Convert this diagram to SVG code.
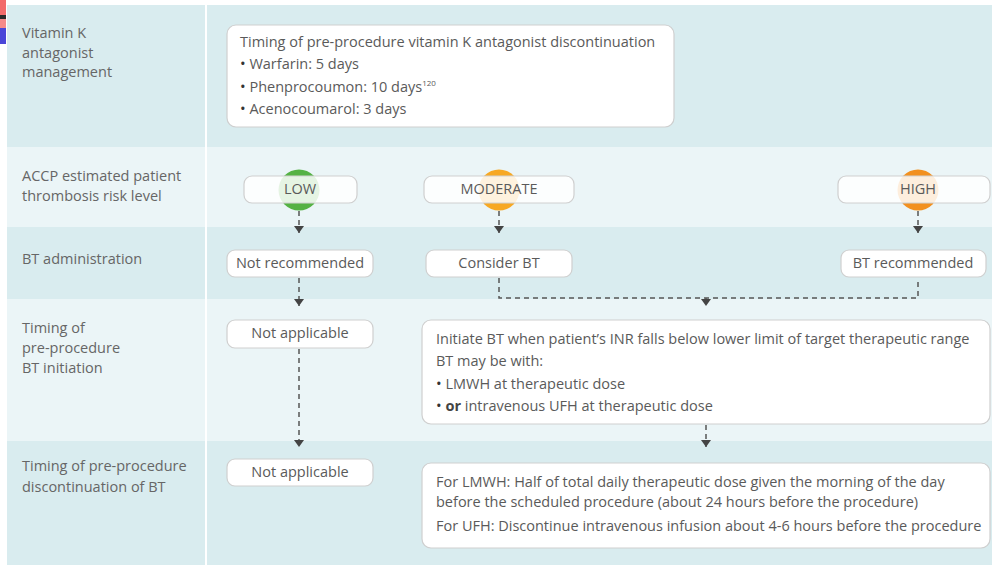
<svg xmlns="http://www.w3.org/2000/svg" width="992" height="565" viewBox="0 0 992 565">
<defs>
<style>
.t{font-family:"Open Sans","Liberation Sans",sans-serif;font-size:14.5px;fill:#5a5a5a}
.lab{font-family:"Open Sans","Liberation Sans",sans-serif;font-size:14.5px;fill:#666}
.c{text-anchor:middle}
.b{fill:#333;font-size:15px}
.box{fill:#ffffff;stroke:#cfcfcf;stroke-width:1.2}
.pill{fill:#ffffff;fill-opacity:0.85;stroke:#cfcfcf;stroke-width:1.2}
.dash{fill:none;stroke:#555;stroke-width:1.5;stroke-dasharray:5 4}
.rowA{fill:#d9ecef}
.rowB{fill:#ebf5f7}
</style>
<marker id="arr" viewBox="0 0 8 10" refX="7" refY="5" markerWidth="8" markerHeight="10" markerUnits="userSpaceOnUse" orient="auto">
<path d="M0,0 L7,5 L0,10 Z" fill="#444"/>
</marker>
</defs>
<rect width="992" height="565" fill="#ffffff"/>
<g id="artifact">
<rect x="0" y="0" width="6" height="15" fill="#f26b6b"/>
<rect x="0" y="15" width="6" height="4" fill="#2a2a2a"/>
<rect x="0" y="19" width="6" height="9" fill="#f58a8a"/>
<rect x="0" y="28" width="6" height="16" fill="#4a46d8"/>
</g>
<g id="rows">
<rect class="rowA" x="7" y="5" width="198" height="142"/>
<rect class="rowA" x="207" y="5" width="785" height="142"/>
<rect class="rowB" x="7" y="147" width="198" height="80"/>
<rect class="rowB" x="207" y="147" width="785" height="80"/>
<rect class="rowA" x="7" y="227" width="198" height="72"/>
<rect class="rowA" x="207" y="227" width="785" height="72"/>
<rect class="rowB" x="7" y="299" width="198" height="142"/>
<rect class="rowB" x="207" y="299" width="785" height="142"/>
<rect class="rowA" x="7" y="441" width="198" height="124"/>
<rect class="rowA" x="207" y="441" width="785" height="124"/>
</g>
<g id="labels">
<text class="lab" x="22" y="38">Vitamin K</text>
<text class="lab" x="22" y="58">antagonist</text>
<text class="lab" x="22" y="77">management</text>
<text class="lab" x="22" y="181">ACCP estimated patient</text>
<text class="lab" x="22" y="201">thrombosis risk level</text>
<text class="lab" x="22" y="264">BT administration</text>
<text class="lab" x="22" y="333">Timing of</text>
<text class="lab" x="22" y="353">pre-procedure</text>
<text class="lab" x="22" y="373">BT initiation</text>
<text class="lab" x="22" y="471">Timing of pre-procedure</text>
<text class="lab" x="22" y="492">discontinuation of BT</text>
</g>
<g id="connectors">
<path class="dash" d="M299,211 V233" marker-end="url(#arr)"/>
<path class="dash" d="M499,211 V233" marker-end="url(#arr)"/>
<path class="dash" d="M918,211 V233" marker-end="url(#arr)"/>
<path class="dash" d="M299,278 V306" marker-end="url(#arr)"/>
<path class="dash" d="M499,278 V298 H918 V278"/>
<path class="dash" d="M706,298 V306" marker-end="url(#arr)"/>
<path class="dash" d="M299,349 V447" marker-end="url(#arr)"/>
<path class="dash" d="M706,425 V447" marker-end="url(#arr)"/>
</g>
<g id="vka">
<rect class="box" x="227" y="25" width="447" height="102" rx="9"/>
<text class="t" x="240" y="47">Timing of pre-procedure vitamin K antagonist discontinuation</text>
<text class="t" x="240" y="69"><tspan class="b">•</tspan> Warfarin: 5 days</text>
<text class="t" x="240" y="92"><tspan class="b">•</tspan> Phenprocoumon: 10 days<tspan font-size="8" dy="-6">120</tspan></text>
<text class="t" x="240" y="114"><tspan class="b">•</tspan> Acenocoumarol: 3 days</text>
</g>
<g id="low">
<circle cx="299" cy="190" r="20.5" fill="#55b244"/>
<rect class="pill" x="244" y="176" width="113" height="27" rx="8"/>
<text class="t c" x="300" y="194">LOW</text>
</g>
<g id="moderate">
<circle cx="499" cy="190" r="20.5" fill="#f7a823"/>
<rect class="pill" x="424" y="176" width="150" height="27" rx="8"/>
<text class="t c" x="499" y="194">MODERATE</text>
</g>
<g id="high">
<circle cx="918" cy="190" r="20.5" fill="#f2901f"/>
<rect class="pill" x="838" y="176" width="152" height="27" rx="8"/>
<text class="t c" x="918" y="194">HIGH</text>
</g>
<g id="not-recommended">
<rect class="box" x="227" y="250" width="146" height="27" rx="8"/>
<text class="t c" x="300" y="268">Not recommended</text>
</g>
<g id="consider-bt">
<rect class="box" x="426" y="250" width="146" height="27" rx="8"/>
<text class="t c" x="499" y="268">Consider BT</text>
</g>
<g id="bt-recommended">
<rect class="box" x="841" y="250" width="145" height="27" rx="8"/>
<text class="t c" x="913" y="268">BT recommended</text>
</g>
<g id="not-applicable-1">
<rect class="box" x="227" y="320" width="146" height="28" rx="8"/>
<text class="t c" x="300" y="338">Not applicable</text>
</g>
<g id="initiate-bt">
<rect class="box" x="422" y="320" width="568" height="104" rx="9"/>
<text class="t" x="436" y="344">Initiate BT when patient’s INR falls below lower limit of target therapeutic range</text>
<text class="t" x="436" y="366">BT may be with:</text>
<text class="t" x="436" y="389"><tspan class="b">•</tspan> LMWH at therapeutic dose</text>
<text class="t" x="436" y="411"><tspan class="b">•</tspan> <tspan font-weight="bold" fill="#444">or</tspan> intravenous UFH at therapeutic dose</text>
</g>
<g id="not-applicable-2">
<rect class="box" x="227" y="459" width="146" height="27" rx="8"/>
<text class="t c" x="300" y="477">Not applicable</text>
</g>
<g id="discontinuation">
<rect class="box" x="422" y="463" width="568" height="85" rx="9"/>
<text class="t" x="436" y="487">For LMWH: Half of total daily therapeutic dose given the morning of the day</text>
<text class="t" x="436" y="507">before the scheduled procedure (about 24 hours before the procedure)</text>
<text class="t" x="436" y="531">For UFH: Discontinue intravenous infusion about 4-6 hours before the procedure</text>
</g>
</svg>
